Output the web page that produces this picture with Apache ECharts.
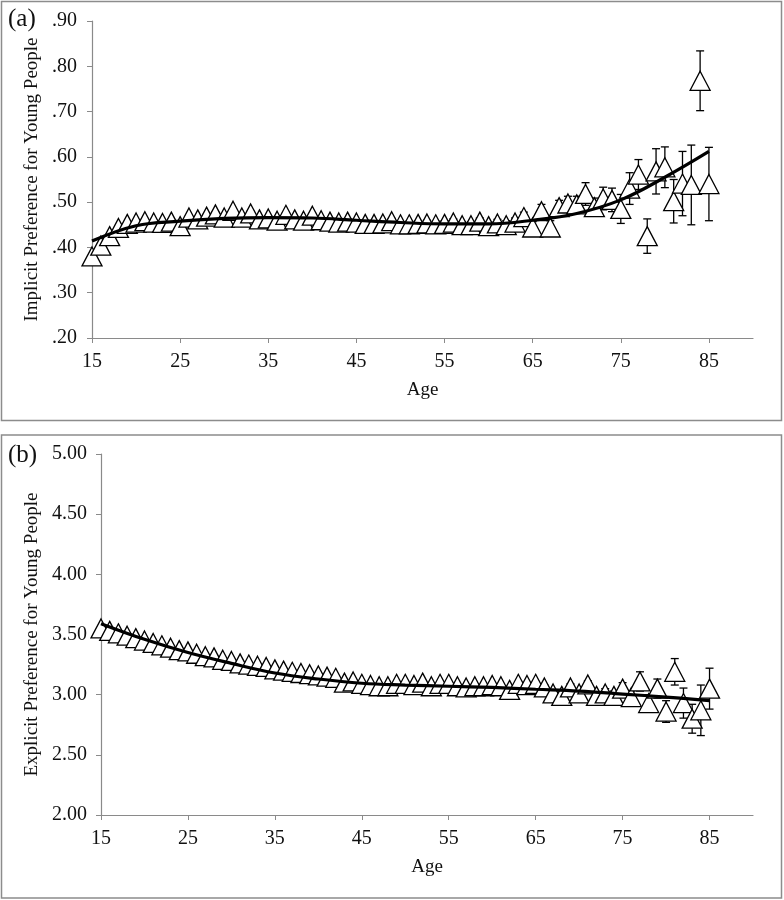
<!DOCTYPE html>
<html>
<head>
<meta charset="utf-8">
<script src="https://cdn.jsdelivr.net/npm/echarts@6/dist/echarts.min.js"></script>
<style>
html,body{margin:0;padding:0;background:#fff;}
#c{width:784px;height:900px;}
</style>
</head>
<body>
<div id="c"></div>
<script>
// ---- Data ----
const ages = [15,16,17,18,19,20,21,22,23,24,25,26,27,28,29,30,31,32,33,34,35,36,37,38,39,40,41,42,43,44,45,46,47,48,49,50,51,52,53,54,55,56,57,58,59,60,61,62,63,64,65,66,67,68,69,70,71,72,73,74,75,76,77,78,79,80,81,82,83,84,85];

// Panel (a): implicit preference
const implicitMean = [0.380,0.404,0.425,0.443,0.452,0.455,0.458,0.455,0.454,0.457,0.447,0.466,0.462,0.468,0.473,0.466,0.481,0.466,0.475,0.462,0.464,0.459,0.472,0.462,0.459,0.470,0.460,0.457,0.455,0.457,0.455,0.452,0.452,0.453,0.458,0.451,0.451,0.452,0.453,0.451,0.452,0.455,0.449,0.449,0.457,0.447,0.453,0.449,0.455,0.467,0.444,0.480,0.444,0.489,0.497,0.495,0.518,0.489,0.508,0.505,0.485,0.530,0.561,0.425,0.568,0.577,0.502,0.541,0.538,0.768,0.540];
const implicitErr = [0.005,0.005,0.005,0.005,0.005,0.005,0.005,0.005,0.005,0.005,0.005,0.005,0.005,0.005,0.005,0.005,0.005,0.005,0.005,0.005,0.005,0.005,0.005,0.005,0.005,0.005,0.005,0.005,0.006,0.006,0.006,0.006,0.006,0.006,0.006,0.006,0.007,0.007,0.007,0.007,0.007,0.008,0.008,0.008,0.008,0.009,0.009,0.010,0.010,0.011,0.013,0.015,0.015,0.015,0.016,0.018,0.025,0.020,0.025,0.026,0.032,0.035,0.033,0.038,0.050,0.045,0.048,0.071,0.088,0.066,0.081];
const implicitTrendAges = [15,20,25,30,35,40,45,50,55,60,65,70,75,80,85];
const implicitTrend = [0.414,0.448,0.458,0.464,0.466,0.465,0.460,0.455,0.452,0.452,0.460,0.475,0.505,0.555,0.612];

// Panel (b): explicit preference
const explicitMean = [3.55,3.53,3.51,3.49,3.47,3.45,3.43,3.41,3.39,3.37,3.36,3.34,3.32,3.31,3.29,3.28,3.26,3.25,3.24,3.23,3.21,3.20,3.19,3.18,3.17,3.16,3.15,3.14,3.10,3.11,3.09,3.08,3.07,3.07,3.09,3.09,3.08,3.10,3.07,3.09,3.09,3.07,3.06,3.07,3.07,3.08,3.07,3.04,3.09,3.08,3.09,3.06,3.01,2.99,3.06,3.01,3.085,2.99,3.01,2.99,3.05,2.98,3.11,2.93,3.05,2.86,3.19,2.93,2.80,2.87,3.05];
const explicitErr = [0.01,0.01,0.01,0.01,0.01,0.01,0.01,0.01,0.01,0.01,0.01,0.01,0.01,0.01,0.01,0.01,0.01,0.01,0.01,0.01,0.01,0.01,0.01,0.01,0.01,0.01,0.01,0.01,0.01,0.01,0.01,0.01,0.01,0.01,0.01,0.01,0.01,0.01,0.01,0.01,0.01,0.01,0.01,0.015,0.015,0.015,0.015,0.015,0.015,0.02,0.02,0.02,0.02,0.03,0.03,0.03,0.03,0.03,0.04,0.04,0.05,0.05,0.08,0.07,0.08,0.09,0.11,0.125,0.12,0.21,0.17];
const explicitTrendAges = [15,20,25,30,35,40,45,50,55,60,65,70,75,80,85];
const explicitTrend = [3.59,3.46,3.35,3.26,3.18,3.13,3.095,3.08,3.07,3.06,3.045,3.03,3.005,2.98,2.95];

const xTicks = [15,25,35,45,55,65,75,85];

// ---- Build ----
const FONT = 'Liberation Serif';
const zip = (xs, ys) => xs.map((x, i) => [x, ys[i]]);
const errData = (m, e) => ages.map((a, i) => [a, m[i] - e[i], m[i] + e[i]]);

function errRender(params, api) {
  const x = api.value(0);
  const lo = api.coord([x, api.value(1)]);
  const hi = api.coord([x, api.value(2)]);
  const w = 4;
  const st = { stroke: '#000', lineWidth: 1.3 };
  return {
    type: 'group',
    children: [
      { type: 'line', shape: { x1: hi[0], y1: hi[1], x2: lo[0], y2: lo[1] }, style: st },
      { type: 'line', shape: { x1: hi[0] - w, y1: hi[1], x2: hi[0] + w, y2: hi[1] }, style: st },
      { type: 'line', shape: { x1: lo[0] - w, y1: lo[1], x2: lo[0] + w, y2: lo[1] }, style: st }
    ]
  };
}

const axisLineStyle = { lineStyle: { color: '#8a8a8a', width: 1.2 } };
const labelStyle = { fontFamily: FONT, fontSize: 20, color: '#111' };
const nameStyle = { fontFamily: FONT, fontSize: 19, color: '#111' };

function xAxis(gi) {
  return {
    type: 'value', gridIndex: gi, min: 15, max: 90, interval: 10,
    name: 'Age', nameLocation: 'middle', nameGap: 43,
    nameTextStyle: nameStyle,
    axisLine: axisLineStyle,
    axisTick: { show: true, length: 5, lineStyle: { color: '#8a8a8a' }, customValues: xTicks },
    axisLabel: Object.assign({ margin: 14, customValues: xTicks }, labelStyle),
    splitLine: { show: false }
  };
}

const option = {
  animation: false,
  backgroundColor: '#fff',
  title: [
    { text: '(a)', left: 3, top: 2, textStyle: { fontFamily: FONT, fontSize: 25, fontWeight: 'normal', color: '#111' } },
    { text: '(b)', left: 3, top: 438, textStyle: { fontFamily: FONT, fontSize: 25, fontWeight: 'normal', color: '#111' } }
  ],
  graphic: [
    { type: 'rect', shape: { x: 1.5, y: 1.5, width: 780, height: 419 }, style: { fill: 'none', stroke: '#8c8c8c', lineWidth: 1.5 }, z: -1 },
    { type: 'rect', shape: { x: 1.5, y: 435, width: 780, height: 463 }, style: { fill: 'none', stroke: '#8c8c8c', lineWidth: 1.5 }, z: -1 }
  ],
  grid: [
    { left: 92, top: 21, width: 661, height: 317 },
    { left: 101, top: 454, width: 652, height: 361 }
  ],
  xAxis: [xAxis(0), xAxis(1)],
  yAxis: [
    {
      type: 'value', gridIndex: 0, min: 0.2, max: 0.9, interval: 0.1,
      name: 'Implicit Preference for Young People', nameLocation: 'middle', nameGap: 47,
      nameTextStyle: nameStyle,
      axisLine: Object.assign({ show: true }, axisLineStyle),
      axisTick: { show: true, length: 5, lineStyle: { color: '#8a8a8a' } },
      axisLabel: Object.assign({ margin: 15, formatter: v => v.toFixed(2).replace(/^0\./, '.') }, labelStyle),
      splitLine: { show: false }
    },
    {
      type: 'value', gridIndex: 1, min: 2, max: 5, interval: 0.5,
      name: 'Explicit Preference for Young People', nameLocation: 'middle', nameGap: 57,
      nameTextStyle: nameStyle,
      axisLine: Object.assign({ show: true }, axisLineStyle),
      axisTick: { show: true, length: 5, lineStyle: { color: '#8a8a8a' } },
      axisLabel: Object.assign({ margin: 14, formatter: v => v.toFixed(2) }, labelStyle),
      splitLine: { show: false }
    }
  ],
  series: [
    { type: 'custom', xAxisIndex: 0, yAxisIndex: 0, renderItem: errRender, data: errData(implicitMean, implicitErr), z: 1, encode: { x: 0, y: [1, 2] } },
    { type: 'scatter', xAxisIndex: 0, yAxisIndex: 0, data: zip(ages, implicitMean), symbol: 'triangle', symbolSize: [20, 19],
      itemStyle: { color: '#fff', borderColor: '#000', borderWidth: 1.3, opacity: 1 }, z: 2 },
    { type: 'line', xAxisIndex: 0, yAxisIndex: 0, data: zip(implicitTrendAges, implicitTrend), smooth: 0.4, showSymbol: false,
      lineStyle: { color: '#000', width: 3.2 }, z: 3 },

    { type: 'custom', xAxisIndex: 1, yAxisIndex: 1, renderItem: errRender, data: errData(explicitMean, explicitErr), z: 1, encode: { x: 0, y: [1, 2] } },
    { type: 'scatter', xAxisIndex: 1, yAxisIndex: 1, data: zip(ages, explicitMean), symbol: 'triangle', symbolSize: [20, 19],
      itemStyle: { color: '#fff', borderColor: '#000', borderWidth: 1.3, opacity: 1 }, z: 2 },
    { type: 'line', xAxisIndex: 1, yAxisIndex: 1, data: zip(explicitTrendAges, explicitTrend), smooth: 0.4, showSymbol: false,
      lineStyle: { color: '#000', width: 3.2 }, z: 3 }
  ]
};

const chart = echarts.init(document.getElementById('c'), null, { renderer: 'canvas' });
chart.setOption(option);
</script>
</body>
</html>
